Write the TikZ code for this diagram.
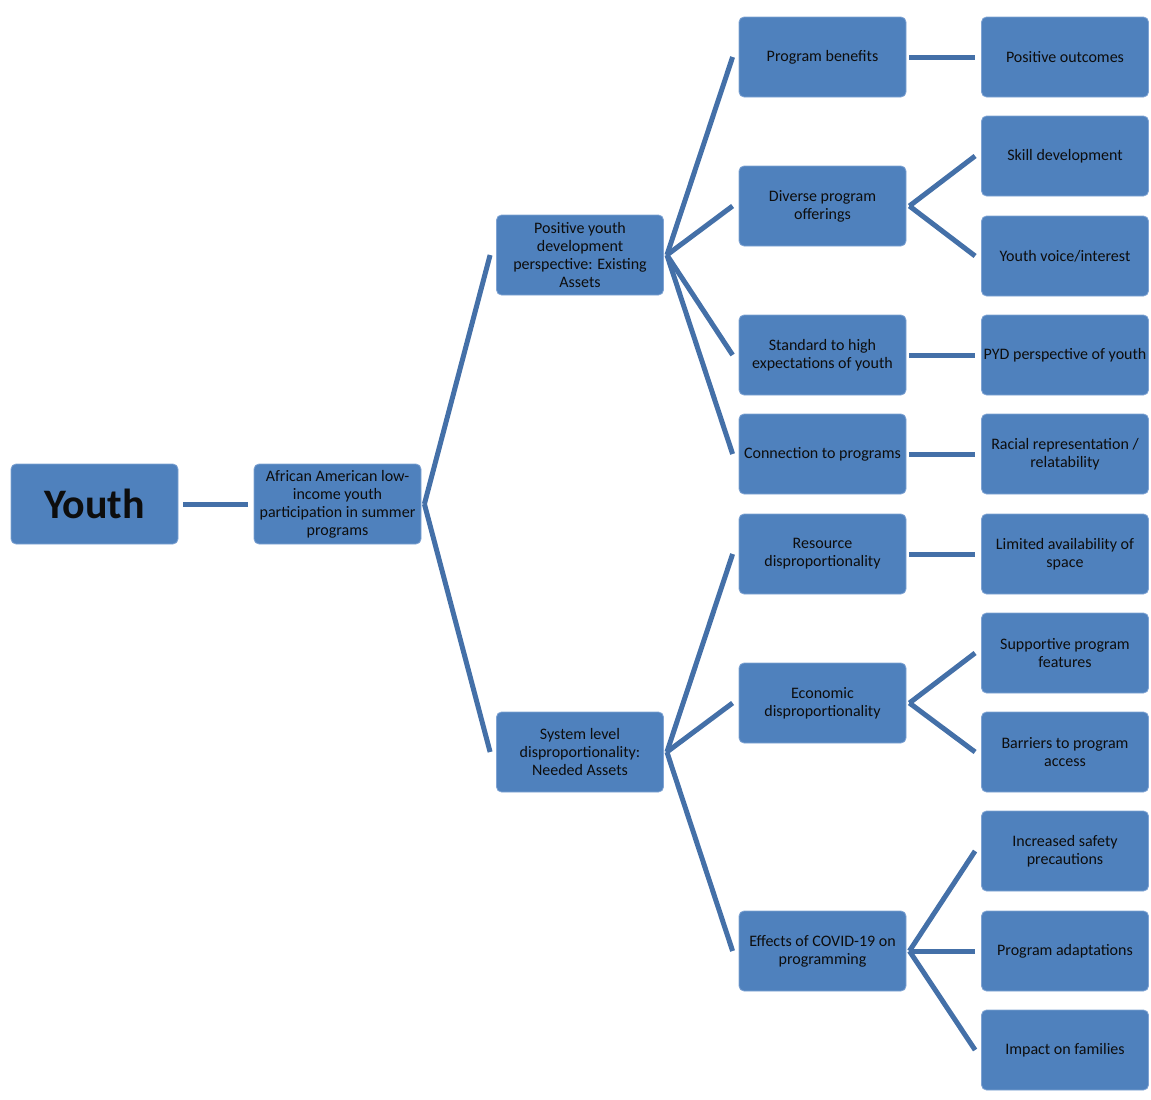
\documentclass[tikz,border=0pt]{standalone}
\usepackage{fontspec}
\setmainfont{Carlito}
\definecolor{boxfill}{HTML}{4F81BD}
\definecolor{boxedge}{HTML}{7FA3D3}
\definecolor{connc}{HTML}{4470A8}
\definecolor{txt}{HTML}{0D0D0D}
\begin{document}
\begin{tikzpicture}[x=1pt,y=-1pt,
  box/.style={draw=boxedge,line width=0.8pt,fill=boxfill,rounded corners=5pt,
    minimum width=167pt,minimum height=80pt,inner sep=1pt,align=center,
    text=txt,font=\fontsize{16}{18}\selectfont},
  conn/.style={draw=connc,line width=5pt,line cap=butt}]
\useasboundingbox (0,0) rectangle (1151,1100);
% level 0-2
\node[box,font=\fontsize{42}{46}\selectfont\bfseries] (youth) at (94.5,504) {Youth};
\node[box] (aa) at (337.5,504) {African American low-\\income youth\\participation in summer\\programs};
\node[box] (pyd) at (580,255) {Positive youth\\development\\perspective: Existing\\Assets};
\node[box] (sys) at (580,752) {System level\\disproportionality:\\Needed Assets};
% level 3
\node[box] (pb) at (822.5,57) {Program benefits};
\node[box] (div) at (822.5,206) {Diverse program\\offerings};
\node[box] (std) at (822.5,355) {Standard to high\\expectations of youth};
\node[box] (con) at (822.5,454) {Connection to programs};
\node[box] (res) at (822.5,554) {Resource\\disproportionality};
\node[box] (eco) at (822.5,703) {Economic\\disproportionality};
\node[box] (cov) at (822.5,951) {Effects of COVID-19 on\\programming};
% level 4
\node[box] (po) at (1065,57) {Positive outcomes};
\node[box] (sk) at (1065,156) {Skill development};
\node[box] (yv) at (1065,256) {Youth voice/interest};
\node[box] (pp) at (1065,355) {PYD perspective of youth};
\node[box] (rr) at (1065,454) {Racial representation /\\relatability};
\node[box] (la) at (1065,554) {Limited availability of\\space};
\node[box] (sp) at (1065,653) {Supportive program\\features};
\node[box] (ba) at (1065,752) {Barriers to program\\access};
\node[box] (is) at (1065,851) {Increased safety\\precautions};
\node[box] (pa) at (1065,951) {Program adaptations};
\node[box] (im) at (1065,1050) {Impact on families};
% connectors
\draw[conn] ([xshift=5pt]youth.east) -- ([xshift=-6pt]aa.west);
\foreach \c in {pyd,sys} \draw[conn] ([xshift=3pt]aa.east) -- ([xshift=-6pt]\c.west);
\foreach \c in {pb,div,std,con} \draw[conn] ([xshift=3pt]pyd.east) -- ([xshift=-6pt]\c.west);
\foreach \c in {res,eco,cov} \draw[conn] ([xshift=3pt]sys.east) -- ([xshift=-6pt]\c.west);
\draw[conn] ([xshift=3pt]pb.east) -- ([xshift=-6pt]po.west);
\foreach \c in {sk,yv} \draw[conn] ([xshift=3pt]div.east) -- ([xshift=-6pt]\c.west);
\draw[conn] ([xshift=3pt]std.east) -- ([xshift=-6pt]pp.west);
\draw[conn] ([xshift=3pt]con.east) -- ([xshift=-6pt]rr.west);
\draw[conn] ([xshift=3pt]res.east) -- ([xshift=-6pt]la.west);
\foreach \c in {sp,ba} \draw[conn] ([xshift=3pt]eco.east) -- ([xshift=-6pt]\c.west);
\foreach \c in {is,pa,im} \draw[conn] ([xshift=3pt]cov.east) -- ([xshift=-6pt]\c.west);
\end{tikzpicture}
\end{document}
